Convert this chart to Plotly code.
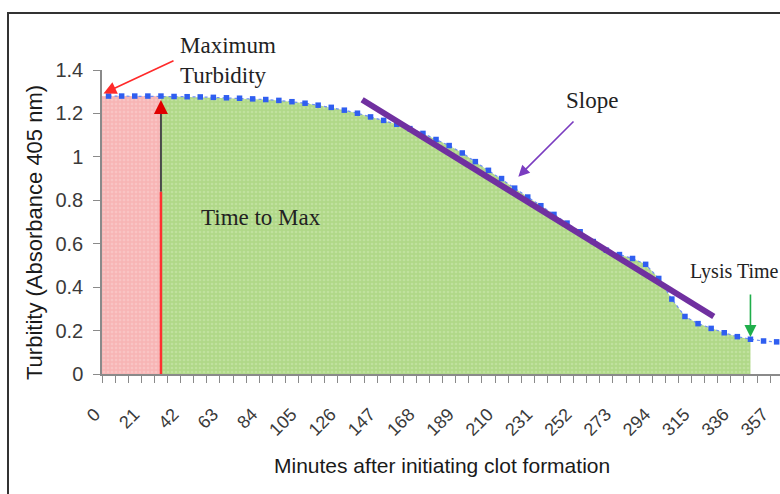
import plotly.graph_objects as go

# ---- data ----
minutes = [7 * i for i in range(52)]
turbidity = [
    1.280, 1.280, 1.280, 1.280, 1.280, 1.278, 1.277, 1.276, 1.274, 1.272,
    1.270, 1.267, 1.264, 1.260, 1.254, 1.247, 1.238, 1.228, 1.215, 1.201,
    1.184, 1.168, 1.150, 1.130, 1.108, 1.080, 1.052, 1.018, 0.978, 0.938,
    0.900, 0.856, 0.815, 0.775, 0.735, 0.695, 0.655, 0.610, 0.570, 0.550,
    0.532, 0.505, 0.440, 0.345, 0.265, 0.232, 0.210, 0.190, 0.172, 0.160,
    0.152, 0.148,
]
tick_labels = [str(21 * k) for k in range(18)]
time_to_max_idx = 4      # 28 min
lysis_idx = 49           # 343 min
slope_x = [135.5, 323.4]
slope_y = [1.263, 0.265]

# ---- layout geometry ----
W, H = 780, 494
ML, MR, MT, MB = 102, 0, 70, 120
PW, PH = W - ML - MR, H - MT - MB
X0 = -3.5
PXPM = 13.1 / 7
XR = [X0, X0 + PW / PXPM]
YR = [0, 1.4]

def px(xp):
    return (xp - ML) / PW

def py(yp):
    return (H - MB - yp) / PH

def dx(xp):
    return (xp - ML) / PXPM + X0

def dy(yp):
    return (H - MB - yp) / PH * (YR[1] - YR[0])

SERIF = "Liberation Serif, Times New Roman, serif"
SANS = "Liberation Sans, Arial, sans-serif"

fig = go.Figure()

# pink area (before max)
pink_x = [XR[0]] + minutes[: time_to_max_idx + 1]
pink_y = [turbidity[0]] + turbidity[: time_to_max_idx + 1]
fig.add_trace(go.Scatter(
    x=pink_x, y=pink_y, mode="lines", line=dict(width=0),
    fill="tozeroy", fillcolor="#f7b9b9",
    fillpattern=dict(shape=".", bgcolor="#f7b5b5", fgcolor="#fbd3d3", size=4, solidity=0.35),
    hoverinfo="skip", showlegend=False))

# green area (max to lysis)
g_x = minutes[time_to_max_idx: lysis_idx + 1]
g_y = turbidity[time_to_max_idx: lysis_idx + 1]
fig.add_trace(go.Scatter(
    x=g_x, y=g_y, mode="lines", line=dict(width=0),
    fill="tozeroy", fillcolor="#b2da8c",
    fillpattern=dict(shape=".", bgcolor="#b0d888", fgcolor="#cfeab4", size=4, solidity=0.35),
    hoverinfo="skip", showlegend=False))

# turbidity curve
fig.add_trace(go.Scatter(
    x=minutes, y=turbidity, mode="lines+markers",
    line=dict(color="#6f8ff5", width=1.2, dash="dot"),
    marker=dict(color="#2f5ef0", size=5.5, symbol="square"),
    hoverinfo="skip", showlegend=False))

# slope line
fig.add_trace(go.Scatter(
    x=slope_x, y=slope_y, mode="lines",
    line=dict(color="#7030a0", width=6),
    hoverinfo="skip", showlegend=False))

tmax = minutes[time_to_max_idx]
shapes = [
    # outer frame (cropped on right/bottom)
    dict(type="rect", xref="paper", yref="paper",
         x0=px(8), x1=px(800), y0=py(560), y1=py(13),
         line=dict(color="#333333", width=2), fillcolor="rgba(0,0,0,0)", layer="above"),
    # time to max marker
    dict(type="line", xref="x", yref="y", x0=tmax, x1=tmax, y0=0, y1=0.84,
         line=dict(color="#ff3030", width=2.5), layer="above"),
    dict(type="line", xref="x", yref="y", x0=tmax, x1=tmax, y0=0.84, y1=1.22,
         line=dict(color="#4a4a4a", width=2), layer="above"),
]

annotations = [
    dict(text="Maximum<br>Turbidity", xref="paper", yref="paper",
         x=px(178), y=py(31), xanchor="left", yanchor="top", align="left",
         showarrow=False, font=dict(family=SERIF, size=23, color="#222222")),
    # red arrow to max turbidity
    dict(xref="x", yref="y", x=dx(103.5), y=dy(93.5), ax=175 - 103.5, ay=60 - 93.5,
         text="", showarrow=True,
         arrowcolor="#ff2a2a", arrowwidth=1.6, arrowhead=2, arrowsize=1.6),
    # red arrow head on time-to-max
    dict(xref="x", yref="y", x=tmax, y=1.262, ax=0, ay=14, text="", showarrow=True,
         arrowcolor="#e00000", arrowwidth=2, arrowhead=2, arrowsize=1.4),
    dict(text="Time to Max", xref="paper", yref="paper", x=px(199), y=py(217),
         xanchor="left", yanchor="middle", showarrow=False,
         font=dict(family=SERIF, size=23, color="#222222")),
    dict(text="Slope", xref="paper", yref="paper", x=px(592), y=py(100),
         xanchor="center", yanchor="middle", showarrow=False,
         font=dict(family=SERIF, size=23, color="#222222")),
    dict(xref="x", yref="y", x=dx(518.3), y=dy(176.7),
         ax=575 - 518.3, ay=120 - 176.7, text="", showarrow=True,
         arrowcolor="#7a3cc0", arrowwidth=1.6, arrowhead=2, arrowsize=1.4),
    dict(text="Lysis Time", xref="paper", yref="paper", x=px(688), y=py(271),
         xanchor="left", yanchor="middle", showarrow=False,
         font=dict(family=SERIF, size=20, color="#222222")),
    dict(xref="x", yref="y", x=minutes[lysis_idx], y=turbidity[lysis_idx] + 0.01,
         ax=0, ay=-44, text="", showarrow=True,
         arrowcolor="#1fae4a", arrowwidth=1.6, arrowhead=2, arrowsize=1.5),
    # axis titles
    dict(text="Minutes after initiating clot formation", xref="paper", yref="paper",
         x=px(442), y=py(465), xanchor="center", yanchor="middle", showarrow=False,
         font=dict(family=SANS, size=21, color="#1a1a1a")),
    dict(text="Turbitity (Absorbance 405 nm)", xref="paper", yref="paper",
         x=px(35), y=py(233), xanchor="center", yanchor="middle", showarrow=False,
         textangle=-90, font=dict(family=SANS, size=22, color="#1a1a1a")),
]

fig.update_layout(
    width=W, height=H,
    margin=dict(l=ML, r=MR, t=MT, b=MB, pad=0, autoexpand=False),
    paper_bgcolor="white", plot_bgcolor="white",
    shapes=shapes, annotations=annotations,
    xaxis=dict(
        range=XR, showgrid=False, zeroline=False, automargin=False,
        showline=True, linecolor="#8a8a8a", linewidth=1.5,
        tickmode="array", tickvals=[21 * k + X0 for k in range(18)], ticktext=tick_labels,
        ticks="outside", ticklen=7, tickcolor="#8a8a8a", tickwidth=1.3,
        ticklabelstandoff=14, ticklabelshift=-7,
        tickangle=-45, tickfont=dict(family=SANS, size=18, color="#3a3a3a"),
        minor=dict(tick0=X0, dtick=7, ticks="outside", ticklen=7,
                   tickcolor="#8a8a8a", tickwidth=1.3),
    ),
    yaxis=dict(
        range=YR, showgrid=False, zeroline=False, automargin=False,
        showline=True, linecolor="#8a8a8a", linewidth=1.5,
        tickmode="linear", tick0=0, dtick=0.2,
        ticks="outside", ticklen=7, tickcolor="#8a8a8a", tickwidth=1.3,
        ticklabelstandoff=6,
        tickfont=dict(family=SANS, size=20, color="#3a3a3a"),
    ),
)

fig.write_html(
    "out.html",
    config={"displayModeBar": False},
    post_script="document.body.style.margin='0';document.body.style.overflow='hidden';",
)
